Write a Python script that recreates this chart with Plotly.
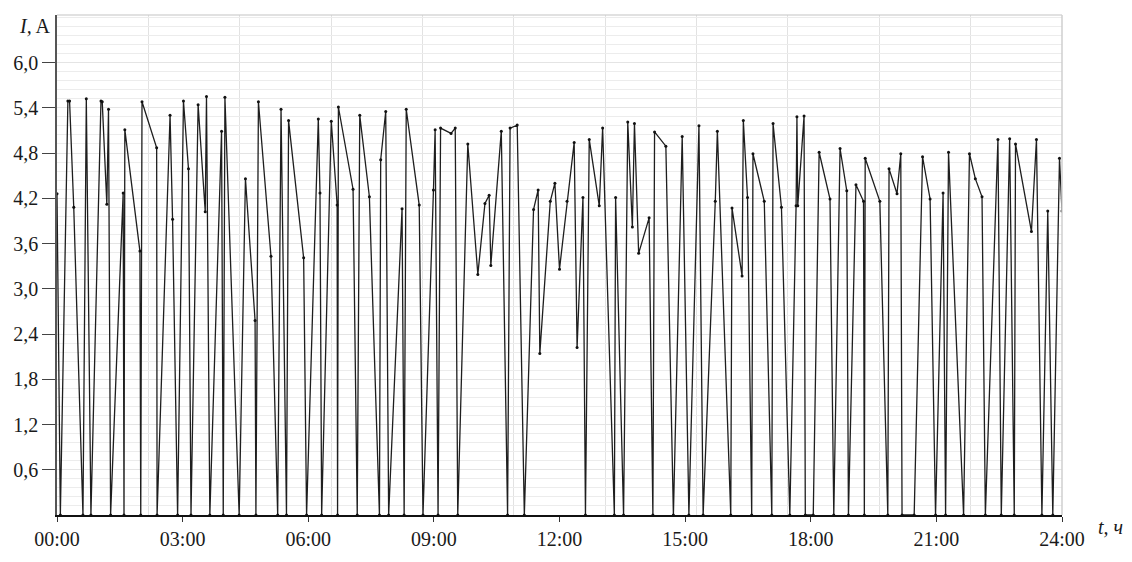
import plotly.graph_objects as go

# time of each sample, hours since 00:00
t_hours = [
    0.00, 0.08, 0.26, 0.30, 0.40, 0.62, 0.70, 0.81, 1.05, 1.08,
    1.19, 1.23, 1.28, 1.58, 1.60, 1.62, 1.98, 2.00, 2.03, 2.38,
    2.39, 2.70, 2.76, 2.88, 3.02, 3.14, 3.20, 3.37, 3.54, 3.57,
    3.65, 3.93, 3.97, 4.01, 4.35, 4.50, 4.73, 4.75, 4.81, 5.11,
    5.27, 5.35, 5.48, 5.53, 5.89, 5.96, 6.24, 6.28, 6.32, 6.55,
    6.69, 6.70, 6.72, 7.07, 7.17, 7.23, 7.46, 7.70, 7.73, 7.85,
    7.92, 8.24, 8.29, 8.34, 8.65, 8.74, 8.99, 9.03, 9.10, 9.16,
    9.41, 9.51, 9.57, 9.81, 10.05, 10.22, 10.32, 10.36, 10.61, 10.76,
    10.82, 10.99, 11.16, 11.38, 11.49, 11.53, 11.78, 11.89, 12.00, 12.18,
    12.35, 12.42, 12.56, 12.62, 12.71, 12.95, 13.03, 13.31, 13.34, 13.53,
    13.63, 13.74, 13.79, 13.89, 14.14, 14.23, 14.27, 14.54, 14.72, 14.93,
    15.09, 15.33, 15.43, 15.72, 15.77, 16.09, 16.12, 16.36, 16.39, 16.49,
    16.59, 16.62, 16.89, 17.07, 17.10, 17.30, 17.50, 17.65, 17.67, 17.69,
    17.84, 17.87, 18.06, 18.20, 18.46, 18.55, 18.70, 18.86, 18.90, 19.08,
    19.26, 19.28, 19.30, 19.65, 19.84, 19.87, 20.06, 20.15, 20.18, 20.47,
    20.67, 20.85, 20.98, 21.16, 21.22, 21.29, 21.65, 21.79, 21.93, 22.09,
    22.17, 22.47, 22.55, 22.75, 22.86, 22.89, 23.27, 23.39, 23.52, 23.66,
    23.78, 23.94, 24.00,
]

# current, A
current_a = [
    4.26, 0.00, 5.49, 5.49, 4.08, 0.00, 5.52, 0.00, 5.49, 5.48,
    4.12, 5.38, 0.00, 4.27, 0.00, 5.11, 3.50, 0.00, 5.48, 4.87,
    0.00, 5.30, 3.92, 0.00, 5.49, 4.59, 0.00, 5.44, 4.02, 5.55,
    0.00, 5.09, 0.00, 5.54, 0.00, 4.46, 2.58, 0.00, 5.48, 3.43,
    0.00, 5.38, 0.00, 5.23, 3.41, 0.00, 5.25, 4.27, 0.00, 5.22,
    4.11, 0.00, 5.41, 4.32, 0.00, 5.30, 4.22, 0.00, 4.71, 5.35,
    0.00, 4.06, 0.00, 5.38, 4.11, 0.00, 4.31, 5.11, 0.00, 5.13,
    5.06, 5.13, 0.00, 4.92, 3.19, 4.13, 4.24, 3.31, 5.09, 0.00,
    5.13, 5.17, 0.00, 4.05, 4.31, 2.14, 4.16, 4.40, 3.26, 4.16,
    4.94, 2.22, 4.21, 0.00, 4.98, 4.10, 5.13, 0.00, 4.21, 0.00,
    5.21, 3.82, 5.19, 3.47, 3.94, 0.00, 5.08, 4.89, 0.00, 5.02,
    0.00, 5.16, 0.00, 4.16, 5.09, 0.00, 4.07, 3.17, 5.23, 4.21,
    0.00, 4.79, 4.16, 0.00, 5.19, 4.08, 0.00, 4.10, 5.28, 4.10,
    5.29, 0.00, 0.00, 4.81, 4.19, 0.00, 4.86, 4.30, 0.00, 4.38,
    4.16, 0.00, 4.73, 4.16, 0.00, 4.59, 4.26, 4.79, 0.00, 0.00,
    4.75, 4.19, 0.00, 4.27, 0.00, 4.81, 0.00, 4.79, 4.46, 4.22,
    0.00, 4.98, 0.00, 4.99, 0.00, 4.92, 3.76, 4.98, 0.00, 4.03,
    0.00, 4.73, 4.03,
]

x_tick_vals = [0, 3, 6, 9, 12, 15, 18, 21, 24]
x_tick_text = ["00:00", "03:00", "06:00", "09:00", "12:00", "15:00", "18:00", "21:00", "24:00"]
y_tick_vals = [0.6, 1.2, 1.8, 2.4, 3.0, 3.6, 4.2, 4.8, 5.4, 6.0]
y_tick_text = ["0,6", "1,2", "1,8", "2,4", "3,0", "3,6", "4,2", "4,8", "5,4", "6,0"]

FONT = "Liberation Serif"

fig = go.Figure()
fig.add_trace(go.Scatter(
    x=t_hours, y=current_a, mode="lines+markers",
    line=dict(color="#1e1e1e", width=1.3),
    marker=dict(color="#111111", size=3),
    hoverinfo="skip", showlegend=False,
))

fig.update_layout(
    width=1132, height=562,
    margin=dict(l=57, r=70, t=15, b=21),
    paper_bgcolor="white", plot_bgcolor="white",
    font=dict(family=FONT, size=20, color="#1a1a1a"),
    xaxis=dict(
        range=[0, 24], tickmode="array", tickvals=x_tick_vals, ticktext=x_tick_text,
        showgrid=False, zeroline=False,
        showline=True, linecolor="#111111", linewidth=1.6,
        ticks="outside", ticklen=5, tickcolor="#333333", tickwidth=1,
        minor=dict(tick0=0, dtick=24 / 11, showgrid=True, gridcolor="#e2e2e2", gridwidth=1),
        tickfont=dict(family=FONT, size=20, color="#1a1a1a"),
    ),
    yaxis=dict(
        range=[0, 6.63], tickmode="array", tickvals=y_tick_vals, ticktext=y_tick_text,
        showgrid=True, gridcolor="#e4e4e4", gridwidth=1, zeroline=False,
        showline=True, linecolor="#555555", linewidth=1.6,
        ticks="outside", ticklen=13, tickcolor="#444444", tickwidth=1.2,
        minor=dict(tick0=0, dtick=0.12, showgrid=True, gridcolor="#ececec", gridwidth=1),
        tickfont=dict(family=FONT, size=20, color="#1a1a1a"),
    ),
    shapes=[
        dict(type="line", xref="paper", yref="paper", x0=0, x1=1, y0=1, y1=1,
             line=dict(color="#c4c4c4", width=1.2)),
        dict(type="line", xref="paper", yref="paper", x0=1, x1=1, y0=0, y1=1,
             line=dict(color="#cfcfcf", width=1.5)),
    ],
    annotations=[
        dict(text="<i>I,</i> A", xref="paper", yref="paper", x=0, y=1,
             xanchor="right", yanchor="top", xshift=-4, yshift=2, showarrow=False,
             font=dict(family=FONT, size=20, color="#1a1a1a")),
        dict(text="<i>t, ч</i>", xref="paper", yref="paper", x=1, y=0,
             xanchor="left", yanchor="middle", xshift=34, yshift=-12, showarrow=False,
             font=dict(family=FONT, size=20, color="#1a1a1a")),
    ],
)

fig.write_html("out.html")
